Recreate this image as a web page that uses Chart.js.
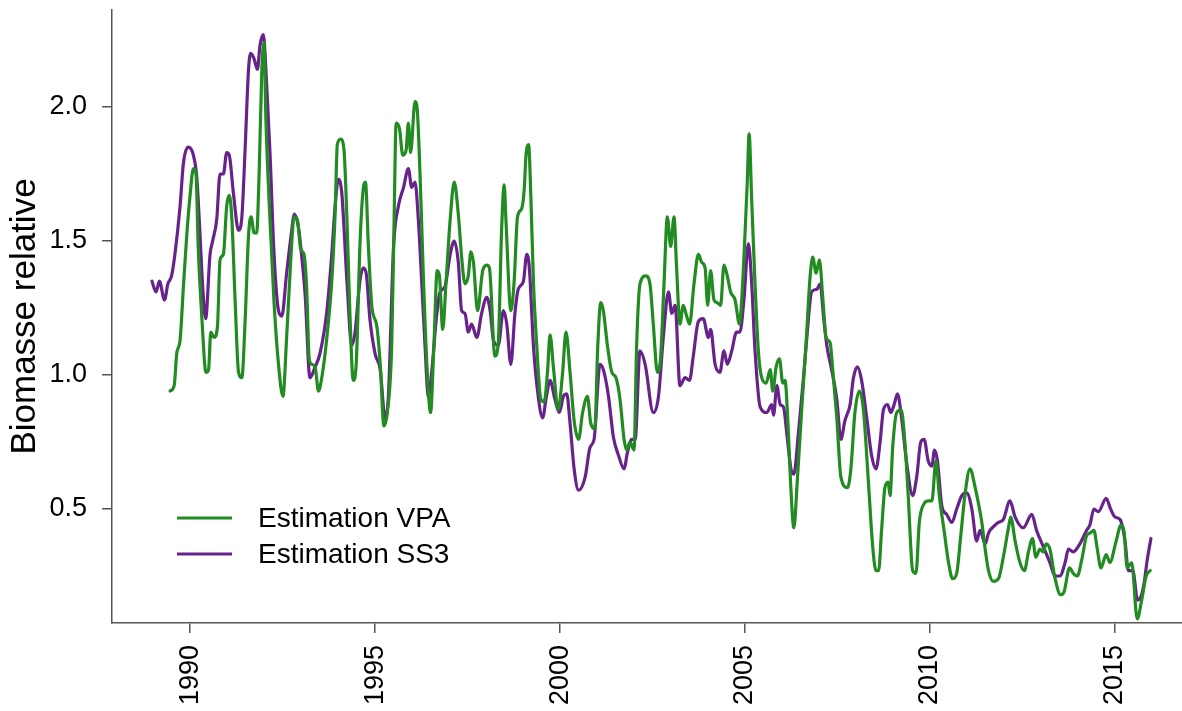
<!DOCTYPE html>
<html>
<head>
<meta charset="utf-8">
<title>Biomasse relative</title>
<script src="https://cdn.jsdelivr.net/npm/chart.js@4.4.1/dist/chart.umd.min.js"></script>
<style>
  html, body { margin: 0; padding: 0; background: #ffffff; }
  #wrap { width: 1182px; height: 711px; position: relative; }
</style>
</head>
<body>
<div id="wrap"><canvas id="chart"></canvas></div>
<script>
// Relative biomass, two stock assessment estimates (decimal years)
const vpaYears = [
  1989.46,1989.57,1989.64,1989.73,1989.82,1989.91,1990.00,1990.09,1990.16,1990.22,
  1990.32,1990.43,1990.50,1990.56,1990.65,1990.74,1990.81,1990.90,1990.99,1991.06,
  1991.13,1991.22,1991.31,1991.40,1991.49,1991.58,1991.65,1991.73,1991.80,1991.87,
  1991.94,1992.00,1992.05,1992.16,1992.27,1992.39,1992.51,1992.61,1992.73,1992.81,
  1992.90,1992.99,1993.08,1993.15,1993.22,1993.29,1993.38,1993.47,1993.56,1993.69,
  1993.83,1993.92,1993.98,1994.07,1994.16,1994.24,1994.32,1994.41,1994.49,1994.59,
  1994.67,1994.74,1994.82,1994.91,1995.05,1995.14,1995.24,1995.33,1995.45,1995.51,
  1995.57,1995.66,1995.75,1995.84,1995.90,1995.96,1996.08,1996.14,1996.22,1996.31,
  1996.40,1996.50,1996.59,1996.68,1996.74,1996.83,1996.92,1997.03,1997.14,1997.25,
  1997.34,1997.43,1997.52,1997.59,1997.66,1997.77,1997.91,1998.02,1998.09,1998.24,
  1998.33,1998.42,1998.49,1998.54,1998.67,1998.76,1998.85,1998.96,1999.03,1999.08,
  1999.15,1999.21,1999.28,1999.37,1999.48,1999.57,1999.66,1999.73,1999.82,1999.95,
  2000.07,2000.16,2000.27,2000.38,2000.50,2000.61,2000.74,2000.83,2000.94,2001.02,
  2001.10,2001.17,2001.28,2001.40,2001.51,2001.62,2001.73,2001.80,2001.89,2002.00,
  2002.07,2002.16,2002.32,2002.43,2002.52,2002.63,2002.72,2002.81,2002.90,2002.99,
  2003.08,2003.15,2003.24,2003.33,2003.42,2003.50,2003.62,2003.74,2003.83,2003.92,
  2003.99,2004.07,2004.16,2004.25,2004.34,2004.43,2004.52,2004.61,2004.73,2004.85,
  2004.91,2005.00,2005.06,2005.11,2005.18,2005.27,2005.36,2005.45,2005.57,2005.68,
  2005.75,2005.84,2005.93,2006.02,2006.08,2006.16,2006.23,2006.32,2006.41,2006.53,
  2006.65,2006.76,2006.83,2006.92,2007.01,2007.10,2007.19,2007.30,2007.37,2007.48,
  2007.59,2007.77,2007.86,2007.97,2008.09,2008.20,2008.33,2008.45,2008.54,2008.61,
  2008.69,2008.78,2008.87,2008.92,2008.99,2009.10,2009.22,2009.32,2009.41,2009.53,
  2009.62,2009.71,2009.84,2009.95,2010.05,2010.16,2010.25,2010.38,2010.50,2010.61,
  2010.72,2010.83,2010.95,2011.08,2011.22,2011.31,2011.40,2011.49,2011.58,2011.71,
  2011.85,2011.98,2012.12,2012.18,2012.30,2012.43,2012.55,2012.66,2012.77,2012.86,
  2012.97,2013.06,2013.14,2013.24,2013.38,2013.53,2013.62,2013.77,2013.87,2013.98,
  2014.10,2014.23,2014.32,2014.43,2014.51,2014.62,2014.76,2014.86,2015.03,2015.16,
  2015.24,2015.33,2015.45,2015.60,2015.72,2015.84,2015.95
];
const vpaValues = [
  0.94,0.96,1.08,1.13,1.33,1.52,1.67,1.77,1.75,1.48,
  1.21,1.01,1.02,1.16,1.14,1.18,1.43,1.45,1.63,1.67,
  1.58,1.27,1.01,0.99,1.21,1.52,1.59,1.53,1.53,1.77,
  2.14,2.24,1.95,1.58,1.27,1.04,0.92,1.14,1.45,1.59,
  1.58,1.47,1.45,1.33,1.06,1.04,1.03,0.94,0.99,1.13,
  1.35,1.60,1.86,1.88,1.84,1.58,1.23,0.98,1.04,1.48,
  1.68,1.72,1.48,1.26,1.18,1.04,0.81,0.86,1.11,1.54,
  1.94,1.92,1.82,1.84,1.94,1.83,2.02,1.99,1.73,1.35,
  1.04,0.86,1.11,1.39,1.37,1.17,1.35,1.58,1.72,1.60,
  1.44,1.34,1.37,1.46,1.42,1.24,1.39,1.41,1.40,1.07,
  1.12,1.54,1.71,1.57,1.24,1.35,1.59,1.62,1.69,1.82,
  1.86,1.67,1.35,1.11,0.91,0.90,1.01,1.15,1.03,0.87,
  1.01,1.16,1.01,0.83,0.76,0.86,0.92,0.82,0.80,1.11,
  1.27,1.24,1.11,1.01,0.99,0.91,0.76,0.72,0.75,0.72,
  1.11,1.34,1.37,1.34,1.19,1.01,1.07,1.34,1.59,1.48,
  1.59,1.40,1.19,1.26,1.22,1.19,1.34,1.45,1.42,1.40,
  1.26,1.39,1.28,1.27,1.26,1.41,1.37,1.31,1.28,1.19,
  1.28,1.53,1.72,1.90,1.65,1.34,1.09,0.99,0.97,1.02,
  0.94,1.03,1.06,0.97,0.98,0.82,0.60,0.43,0.60,0.87,
  1.12,1.37,1.44,1.38,1.43,1.29,1.14,1.12,1.02,0.84,
  0.62,0.58,0.65,0.86,0.94,0.87,0.61,0.36,0.27,0.27,
  0.42,0.58,0.60,0.55,0.73,0.86,0.87,0.75,0.55,0.27,
  0.26,0.45,0.52,0.53,0.53,0.68,0.55,0.42,0.30,0.24,
  0.26,0.40,0.56,0.65,0.58,0.52,0.45,0.35,0.27,0.23,
  0.24,0.32,0.43,0.47,0.38,0.30,0.27,0.34,0.39,0.32,
  0.35,0.34,0.37,0.35,0.24,0.18,0.19,0.28,0.26,0.25,
  0.31,0.40,0.41,0.42,0.36,0.28,0.33,0.30,0.38,0.44,
  0.42,0.28,0.30,0.09,0.16,0.25,0.27
];

const ss3Years = [
  1988.97,1989.08,1989.17,1989.31,1989.40,1989.50,1989.59,1989.73,1989.82,1989.95,
  1990.09,1990.18,1990.27,1990.34,1990.42,1990.54,1990.61,1990.72,1990.81,1990.90,
  1990.99,1991.06,1991.17,1991.31,1991.40,1991.49,1991.58,1991.64,1991.73,1991.82,
  1991.89,1991.98,1992.05,1992.16,1992.27,1992.39,1992.48,1992.61,1992.73,1992.82,
  1992.93,1993.02,1993.11,1993.24,1993.38,1993.51,1993.69,1993.83,1993.92,1994.01,
  1994.10,1994.24,1994.37,1994.46,1994.59,1994.68,1994.76,1994.86,1995.00,1995.14,
  1995.27,1995.36,1995.50,1995.63,1995.77,1995.90,1995.99,1996.08,1996.17,1996.26,
  1996.35,1996.44,1996.53,1996.67,1996.76,1996.89,1997.03,1997.14,1997.25,1997.34,
  1997.43,1997.52,1997.61,1997.75,1997.88,1998.02,1998.11,1998.20,1998.33,1998.47,
  1998.56,1998.67,1998.78,1998.87,1999.01,1999.10,1999.17,1999.28,1999.41,1999.53,
  1999.62,1999.73,1999.86,1999.98,2000.09,2000.18,2000.27,2000.38,2000.50,2000.68,
  2000.81,2000.92,2001.08,2001.17,2001.31,2001.44,2001.58,2001.73,2001.82,2001.94,
  2002.03,2002.16,2002.30,2002.52,2002.66,2002.79,2002.93,2003.02,2003.11,2003.24,
  2003.38,2003.50,2003.60,2003.74,2003.87,2004.01,2004.07,2004.19,2004.32,2004.43,
  2004.52,2004.64,2004.77,2004.86,2004.97,2005.09,2005.18,2005.27,2005.41,2005.59,
  2005.72,2005.77,2005.86,2005.95,2006.04,2006.13,2006.24,2006.32,2006.44,2006.58,
  2006.67,2006.80,2006.94,2007.03,2007.12,2007.21,2007.34,2007.48,2007.59,2007.70,
  2007.84,2007.93,2008.04,2008.15,2008.29,2008.42,2008.54,2008.65,2008.74,2008.85,
  2008.94,2009.03,2009.12,2009.23,2009.37,2009.53,2009.64,2009.75,2009.84,2009.95,
  2010.05,2010.12,2010.20,2010.32,2010.45,2010.59,2010.72,2010.86,2010.99,2011.13,
  2011.26,2011.35,2011.49,2011.58,2011.76,2011.85,2011.98,2012.16,2012.30,2012.52,
  2012.75,2012.88,2013.06,2013.24,2013.38,2013.51,2013.65,2013.74,2013.87,2014.05,
  2014.23,2014.32,2014.43,2014.55,2014.76,2014.88,2015.00,2015.14,2015.27,2015.36,
  2015.48,2015.61,2015.77,2015.87,2015.97
];
const ss3Values = [
  1.35,1.31,1.35,1.28,1.34,1.37,1.45,1.63,1.79,1.85,
  1.82,1.74,1.52,1.33,1.21,1.45,1.50,1.58,1.75,1.75,
  1.83,1.82,1.68,1.54,1.59,1.85,2.14,2.20,2.18,2.14,
  2.23,2.27,2.14,1.83,1.45,1.24,1.22,1.38,1.52,1.60,
  1.55,1.44,1.30,0.99,1.03,1.08,1.23,1.45,1.63,1.73,
  1.68,1.35,1.11,1.16,1.35,1.40,1.38,1.21,1.08,1.02,
  0.84,0.92,1.48,1.63,1.70,1.77,1.70,1.72,1.58,1.35,
  1.11,0.92,1.01,1.23,1.31,1.33,1.45,1.50,1.42,1.24,
  1.23,1.16,1.19,1.14,1.23,1.29,1.24,1.13,1.11,1.24,
  1.19,1.04,1.23,1.32,1.35,1.45,1.40,1.11,0.92,0.84,
  0.91,0.98,0.91,0.86,0.92,0.93,0.82,0.65,0.57,0.62,
  0.73,0.76,1.04,1.02,0.92,0.77,0.70,0.65,0.71,0.76,
  0.76,1.09,1.04,0.86,0.92,1.14,1.31,1.23,1.26,0.96,
  0.99,0.98,1.07,1.20,1.21,1.14,1.17,1.04,1.01,1.09,
  1.04,1.09,1.16,1.16,1.28,1.49,1.34,1.09,0.88,0.86,
  0.89,0.85,0.96,0.89,0.88,0.78,0.65,0.63,0.78,0.99,
  1.14,1.31,1.32,1.34,1.22,1.11,1.02,0.91,0.76,0.83,
  0.89,0.99,1.03,0.98,0.84,0.70,0.65,0.75,0.87,0.89,
  0.86,0.89,0.93,0.84,0.67,0.55,0.62,0.75,0.76,0.68,
  0.66,0.72,0.68,0.51,0.48,0.45,0.50,0.55,0.56,0.50,
  0.38,0.42,0.37,0.41,0.44,0.45,0.46,0.53,0.47,0.43,
  0.48,0.42,0.36,0.30,0.25,0.25,0.30,0.35,0.34,0.37,
  0.42,0.44,0.50,0.49,0.54,0.50,0.47,0.46,0.38,0.27,
  0.27,0.16,0.21,0.31,0.39
];

const yearTicks = [1990, 1995, 2000, 2005, 2010, 2015];
const valueTicks = [0.5, 1.0, 1.5, 2.0];
const seriesLabels = ['Estimation VPA', 'Estimation SS3'];
const seriesColors = ['#228B22', '#68228B'];

const FONT = '"Liberation Sans", Arial, Helvetica, sans-serif';
const AXIS_GREY = '#555555';

function toPoints(xs, ys) {
  return xs.map((x, i) => ({ x: x, y: ys[i] }));
}

// Legend drawn inside the plot, lower-left, as short line segments with labels
const insetLegend = {
  id: 'insetLegend',
  afterDatasetsDraw(chart) {
    const ctx = chart.ctx;
    const area = chart.chartArea;
    const x0 = area.left + 65, x1 = area.left + 120, tx = area.left + 146;
    const rows = [area.top + 508, area.top + 544];
    ctx.save();
    ctx.font = '28px ' + FONT;
    ctx.textBaseline = 'middle';
    ctx.textAlign = 'left';
    chart.data.datasets.forEach((ds, i) => {
      const y = rows[i];
      ctx.strokeStyle = ds.borderColor;
      ctx.lineWidth = 3;
      ctx.beginPath();
      ctx.moveTo(x0, y);
      ctx.lineTo(x1, y);
      ctx.stroke();
      ctx.fillStyle = '#000000';
      ctx.fillText(ds.label, tx, y + 1);
    });
    ctx.restore();
  }
};

function seriesStyle(label, color, points) {
  return {
    label: label,
    data: points,
    borderColor: color,
    backgroundColor: color,
    borderWidth: 3.2,
    pointRadius: 0,
    cubicInterpolationMode: 'monotone',
    borderJoinStyle: 'round',
    borderCapStyle: 'round',
    fill: false
  };
}

new Chart(document.getElementById('chart'), {
  type: 'line',
  data: {
    datasets: [
      seriesStyle(seriesLabels[0], seriesColors[0], toPoints(vpaYears, vpaValues)),
      seriesStyle(seriesLabels[1], seriesColors[1], toPoints(ss3Years, ss3Values))
    ]
  },
  options: {
    responsive: true,
    maintainAspectRatio: false,
    devicePixelRatio: 1,
    animation: false,
    layout: { padding: { top: 10, left: 0, right: 0, bottom: 0 } },
    plugins: {
      legend: { display: false },
      tooltip: { enabled: false }
    },
    scales: {
      x: {
        type: 'linear',
        min: 1987.89,
        max: 2016.81,
        afterBuildTicks(scale) { scale.ticks = yearTicks.map(v => ({ value: v })); },
        afterFit(scale) {
          scale.height = 88;
          scale.paddingLeft = 0;
          scale.paddingRight = 0;
        },
        border: { display: true, color: AXIS_GREY, width: 1.5 },
        grid: { display: true, drawOnChartArea: false, drawTicks: true, tickLength: 10, color: AXIS_GREY, lineWidth: 1.5 },
        ticks: {
          autoSkip: false,
          minRotation: 90,
          maxRotation: 90,
          padding: 12,
          color: '#000000',
          font: { family: FONT, size: 27 },
          callback: v => String(v)
        }
      },
      y: {
        type: 'linear',
        min: 0.0746,
        max: 2.362,
        afterBuildTicks(scale) { scale.ticks = valueTicks.map(v => ({ value: v })); },
        afterFit(scale) {
          scale.width = 112;
          scale.paddingTop = 0;
          scale.paddingBottom = 0;
        },
        border: { display: true, color: AXIS_GREY, width: 1.5 },
        grid: { display: true, drawOnChartArea: false, drawTicks: true, tickLength: 10, color: AXIS_GREY, lineWidth: 1.5 },
        title: {
          display: true,
          text: 'Biomasse relative',
          color: '#000000',
          font: { family: FONT, size: 35 },
          padding: { top: 4, bottom: 0 }
        },
        ticks: {
          autoSkip: false,
          padding: 15,
          color: '#000000',
          font: { family: FONT, size: 27 },
          callback: v => v.toFixed(1)
        }
      }
    }
  },
  plugins: [insetLegend]
});
</script>
</body>
</html>
